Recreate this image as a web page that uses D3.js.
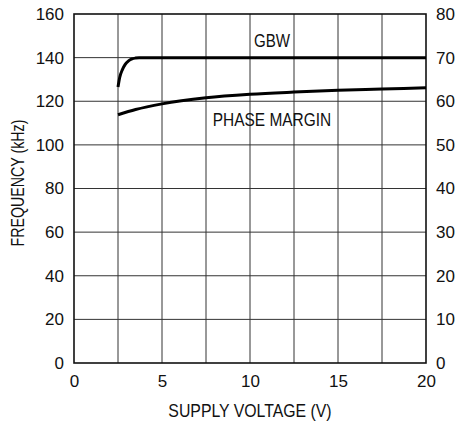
<!DOCTYPE html>
<html>
<head>
<meta charset="utf-8">
<script src="https://cdn.jsdelivr.net/npm/d3@7"></script>
<style>
body { margin: 0; background: #fff; }
text { font-family: "Liberation Sans", Arial, sans-serif; fill: #111; }
</style>
</head>
<body>
<div id="canvas"></div>
<script>
// data
var gbwVolts = [2.5, 2.6, 2.75, 2.9, 3.1, 3.3, 3.5, 3.7, 5, 10, 15, 20];
var gbwKHz = [126.5, 131, 134.5, 136.8, 138.5, 139.4, 139.8, 140, 140, 140, 140, 140];
var pmVolts = [2.5, 3.5, 5, 7.5, 10, 12.5, 15, 17.5, 20];
var pmDeg = [56.9, 58.1, 59.4, 60.8, 61.6, 62.1, 62.5, 62.8, 63.1];
var xTicks = [0, 5, 10, 15, 20];
var yLeftTicks = [0, 20, 40, 60, 80, 100, 120, 140, 160];
var yRightTicks = [0, 10, 20, 30, 40, 50, 60, 70, 80];

var width = 461, height = 424;
var plotL = 74, plotR = 426, plotT = 14, plotB = 363;

var svg = d3.select("#canvas").append("svg")
    .attr("width", width)
    .attr("height", height);

var x = d3.scaleLinear().domain([0, 20]).range([plotL, plotR]);
var yL = d3.scaleLinear().domain([0, 160]).range([plotB, plotT]);
var yR = d3.scaleLinear().domain([0, 80]).range([plotB, plotT]);

// grid
var gx = d3.range(2.5, 20, 2.5);
svg.selectAll(".vgrid").data(gx).enter().append("line")
    .attr("x1", function (d) { return x(d); })
    .attr("x2", function (d) { return x(d); })
    .attr("y1", plotT).attr("y2", plotB)
    .attr("stroke", "#333").attr("stroke-width", 1);
svg.selectAll(".hgrid").data(yLeftTicks.slice(1, -1)).enter().append("line")
    .attr("x1", plotL).attr("x2", plotR)
    .attr("y1", function (d) { return yL(d); })
    .attr("y2", function (d) { return yL(d); })
    .attr("stroke", "#333").attr("stroke-width", 1);

svg.append("rect")
    .attr("x", plotL).attr("y", plotT)
    .attr("width", plotR - plotL).attr("height", plotB - plotT)
    .attr("fill", "none").attr("stroke", "#111").attr("stroke-width", 1.6);

// axes (tick labels only)
var ax = svg.append("g").attr("transform", "translate(0," + plotB + ")")
    .call(d3.axisBottom(x).tickValues(xTicks).tickSize(0).tickPadding(12));
var al = svg.append("g").attr("transform", "translate(" + plotL + ",0)")
    .call(d3.axisLeft(yL).tickValues(yLeftTicks).tickSize(0).tickPadding(10));
var ar = svg.append("g").attr("transform", "translate(" + plotR + ",0)")
    .call(d3.axisRight(yR).tickValues(yRightTicks).tickSize(0).tickPadding(10));
[ax, al, ar].forEach(function (g) {
    g.attr("font-family", null).attr("font-size", null);
    g.select(".domain").remove();
    g.selectAll("text").attr("font-size", 17).attr("fill", "#111");
});

// curves
var lineG = d3.line().x(function (d, i) { return x(gbwVolts[i]); }).y(function (d) { return yL(d); }).curve(d3.curveMonotoneX);
var lineP = d3.line().x(function (d, i) { return x(pmVolts[i]); }).y(function (d) { return yR(d); }).curve(d3.curveMonotoneX);
svg.append("path").attr("d", lineG(gbwKHz))
    .attr("fill", "none").attr("stroke", "#000").attr("stroke-width", 3);
svg.append("path").attr("d", lineP(pmDeg))
    .attr("fill", "none").attr("stroke", "#000").attr("stroke-width", 3);

// labels (narrowed to look like the condensed face)
function label(cx, cy, rot, sx, txt) {
    svg.append("g")
        .attr("transform", "translate(" + cx + "," + cy + ") rotate(" + rot + ") scale(" + sx + ",1)")
        .append("text").attr("text-anchor", "middle").attr("font-size", 18).text(txt);
}
label(272, 47, 0, 0.84, "GBW");
label(272, 126, 0, 0.86, "PHASE MARGIN");
label(250, 417, 0, 0.88, "SUPPLY VOLTAGE (V)");
label(24, 183, -90, 0.79, "FREQUENCY (kHz)");
</script>
</body>
</html>
